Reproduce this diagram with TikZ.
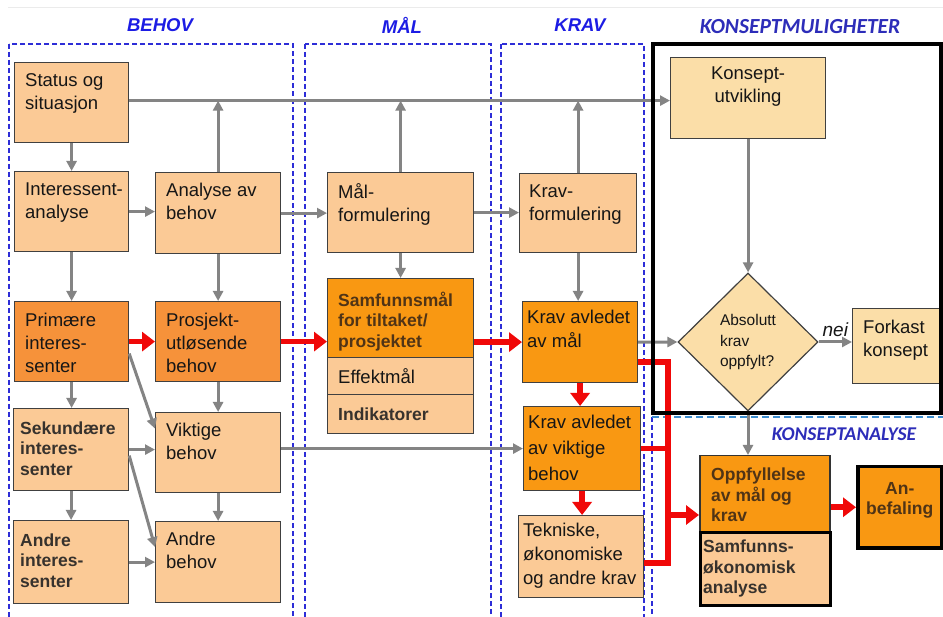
\documentclass[tikz,border=0pt]{standalone}
\usepackage{fontspec}
\setmainfont{Liberation Sans}
\newfontfamily\calfont{Carlito}
\usetikzlibrary{arrows.meta,shapes.geometric,calc}

\definecolor{peach}{RGB}{251,202,150}
\definecolor{darkor}{RGB}{246,146,58}
\definecolor{goldor}{RGB}{249,152,18}
\definecolor{pale}{RGB}{251,222,168}
\definecolor{edge}{RGB}{64,64,64}
\definecolor{arrgray}{RGB}{132,132,132}
\definecolor{arrred}{RGB}{240,8,8}
\definecolor{colblue}{RGB}{45,45,215}
\definecolor{lineblue}{RGB}{60,140,205}
\definecolor{headblue}{RGB}{28,28,228}
\definecolor{konblue}{RGB}{45,45,185}
\definecolor{ink}{RGB}{22,22,22}
\definecolor{inkgray}{RGB}{55,50,45}
\definecolor{inkbrown}{RGB}{80,52,22}

\newcommand{\boxfont}{\fontsize{18.5pt}{23pt}\selectfont}
\newcommand{\kravfont}{\fontsize{18.5pt}{24pt}\selectfont}
\newcommand{\widefont}{\fontsize{18.5pt}{26pt}\selectfont}
\newcommand{\boldfont}{\fontsize{17.5pt}{20.5pt}\selectfont\bfseries}
\newcommand{\diafont}{\fontsize{15.5pt}{20.5pt}\selectfont}
\newcommand{\headfont}{\fontsize{18.5pt}{20pt}\selectfont\bfseries\itshape}

\begin{document}
\begin{tikzpicture}[x=1pt, y=-1pt,
  box/.style={draw=edge, line width=1.2pt, fill=peach, anchor=north west, inner sep=0pt},
  hot/.style={box, fill=darkor},
  gold/.style={box, fill=goldor},
  pal/.style={box, fill=pale},
  wh/.style 2 args={minimum width=#1pt, minimum height=#2pt},
  txt/.style={anchor=north west, align=left, inner xsep=11pt, inner ysep=11pt, font=\boxfont, text=ink},
  btxt/.style={txt, font=\boldfont, text=inkgray, inner xsep=7pt, inner ysep=13.5pt},
  decision/.style={diamond, aspect=1, draw=edge, line width=1.2pt, fill=pale, inner sep=0pt,
    minimum width=140pt, minimum height=138pt, align=left, font=\diafont, text=ink},
  garrow/.style={draw=arrgray, line width=3pt, -{Triangle[length=10pt, width=10pt]}},
  rline/.style={draw=arrred, line width=5.5pt},
  rarrow/.style={rline, -{Triangle[length=13pt, width=19pt]}},
  column/.style={draw=colblue, line width=1.3pt, dash pattern=on 5pt off 3pt},
  head/.style={font=\headfont, text=headblue},
  khead/.style={font=\calfont\fontsize{21.5pt}{23pt}\selectfont\bfseries\itshape, text=konblue}]

  \path[use as bounding box] (0,0) rectangle (943,617);
  \clip (0,0) rectangle (943,617);
  \fill[white] (0,0) rectangle (943,617);

  \draw[black!8, line width=1pt] (8,8) -- (943,8);

  \draw[column] (9,44) rectangle (293,640);
  \draw[column] (305,44) rectangle (491,640);
  \draw[column] (501,44) rectangle (644,640);
  \draw[column] (652,417) -- (652,640);
  \draw[draw=lineblue, line width=1.6pt, dash pattern=on 7pt off 4pt] (652,417) -- (943,417);

  \node[head] (tbehov) at (160,25) {BEHOV};
  \node[head] (tmaal) at (402,25) {MÅL};
  \node[head] (tkrav) at (580,25) {KRAV};
  \node[khead] (tmulig) at (800,27) {KONSEPTMULIGHETER};
  \node[khead, font=\calfont\fontsize{19.5pt}{21pt}\selectfont\bfseries\itshape] (tanalyse) at (844,434) {KONSEPTANALYSE};

  % behov
  \node[box, wh={114}{80}, label={[txt]north west:Status og\\situasjon}] (status) at (14,62) {};
  \node[box, wh={114}{80}, label={[txt, inner ysep=12pt]north west:Interessent-\\analyse}] (inter) at (14,171) {};
  \node[hot, wh={114}{80}, label={[txt, inner ysep=12pt]north west:Primære\\interes-\\senter}] (prim) at (14,301) {};
  \node[box, wh={115}{82}, label={[btxt]north west:Sekundære\\interes-\\senter}] (sek) at (13,408) {};
  \node[box, wh={115}{83}, label={[btxt]north west:Andre\\interes-\\senter}] (andrei) at (13,520) {};

  \node[box, wh={125}{81}, label={[txt]north west:Analyse av\\behov}] (analyse) at (155,172) {};
  \node[hot, wh={125}{80}, label={[txt, inner ysep=12pt]north west:Prosjekt-\\utløsende\\behov}] (prosj) at (155,301) {};
  \node[box, wh={125}{80}, label={[txt]north west:Viktige\\behov}] (vikt) at (155,412) {};
  \node[box, wh={125}{81}, label={[txt]north west:Andre\\behov}] (andreb) at (155,521) {};

  % maal
  \node[box, wh={146}{80}, label={[txt]north west:Mål-\\formulering}] (maal) at (327,172) {};
  \node[gold, wh={146}{79}, label={[btxt, text=inkbrown, inner xsep=11pt]north west:Samfunnsmål\\for tiltaket/\\prosjektet}] (samf) at (327,278) {};
  \node[box, wh={146}{37}, label={[txt]north west:Effektmål}] (effekt) at (327,357) {};
  \node[box, wh={146}{39}, label={[btxt, inner xsep=11pt]north west:Indikatorer}] (indik) at (327,394) {};

  % krav
  \node[box, wh={117}{79}, label={[txt, inner xsep=10pt, inner ysep=12pt]north west:Krav-\\formulering}] (kravf) at (519,173) {};
  \node[gold, wh={115}{81}, label={[txt, font=\kravfont, inner xsep=5pt, inner ysep=9pt]north west:Krav avledet\\av mål}] (kravm) at (522,301) {};
  \node[gold, wh={117}{84}, label={[txt, font=\widefont, inner xsep=5pt, inner ysep=9pt]north west:Krav avledet\\av viktige\\behov}] (kravv) at (523,406) {};
  \node[box, wh={125}{82}, label={[txt, font=\kravfont, inner xsep=5pt, inner ysep=8pt]north west:Tekniske,\\økonomiske\\og andre krav}] (tek) at (518,515) {};

  % konsept
  \node[pal, wh={155}{81}, label={[txt, anchor=north, align=center, inner ysep=10pt]north:Konsept-\\utvikling}] (konsept) at (670,57) {};
  \node[decision] (check) at (748,342) {Absolutt\\krav\\oppfylt?};
  \node[pal, wh={88}{75}, label={[txt, inner ysep=12pt]north west:Forkast\\konsept}] (forkast) at (852,308) {};
  \node[gold, draw=black!80, line width=1.5pt, wh={130}{76}, label={[btxt, text=inkbrown, inner xsep=12pt, inner ysep=13pt]north west:Oppfyllelse\\av mål og\\krav}] (oppf) at (699,455) {};
  \node[box, draw=black, line width=2.5pt, wh={130}{73}, label={[btxt, inner xsep=4pt, inner ysep=9pt]north west:Samfunns-\\økonomisk\\analyse}] (samok) at (699,531) {};
  \node[gold, draw=black, line width=3.5pt, wh={84}{81}, label={[btxt, text=inkbrown, anchor=north, align=center, inner ysep=17pt]north:An-\\befaling}] (anbef) at (856,465) {};

  % grey arrows
  \coordinate (topline) at ($(status.east)+(0,-2)$);
  \draw[garrow] (topline) -- (topline -| konsept.west);
  \draw[garrow] (analyse.north) -- (analyse.north |- topline);
  \draw[garrow] (maal.north) -- (maal.north |- topline);
  \draw[garrow] (kravf.north) -- (kravf.north |- topline);
  \draw[garrow] (status) -- (inter);
  \draw[garrow] (inter.east) -- (inter.east -| analyse.west);
  \draw[garrow] (analyse.east) -- (analyse.east -| maal.west);
  \draw[garrow] (maal.east) -- (maal.east -| kravf.west);
  \draw[garrow] (inter) -- (prim);
  \draw[garrow] (analyse) -- (prosj);
  \draw[garrow] (maal) -- (samf);
  \draw[garrow] (kravf.south) -- (kravf.south |- kravm.north);
  \draw[garrow] (prim.south) -- (prim.south |- sek.north);
  \draw[garrow] (prosj) -- (vikt);
  \draw[garrow] ($(prim.east)+(0,12)$) -- ($(vikt.west)+(0,-24)$);
  \draw[garrow] (sek.east) -- (sek.east -| vikt.west);
  \draw[garrow] ($(sek.east)+(0,6)$) -- ($(andreb.west)+(0,-15)$);
  \draw[garrow] (sek.south) -- (sek.south |- andrei.north);
  \draw[garrow] (vikt) -- (andreb);
  \draw[garrow] (andrei.east) -- (andreb.west);
  \draw[garrow] (kravv.west -| vikt.east) -- (kravv.west);
  \draw[garrow] (kravm.east) -- (check.west);
  \draw[garrow] (konsept.south) -- (konsept.south |- check.north);
  \draw[garrow] (check.east) -- (check.east -| forkast.west) node[midway, above, font=\fontsize{19pt}{20pt}\selectfont\itshape, text=ink] (nei) {nei};
  \draw[garrow] (check.south) -- (check.south |- oppf.north);

  % red arrows
  \coordinate (bustop) at (668,362);
  \coordinate (busbot) at (668,563);
  \coordinate (busin) at (668,515);
  \draw[rarrow] (prim.east) -- (prosj.west);
  \draw[rarrow] (prosj.east) -- (prosj.east -| samf.west);
  \draw[rarrow] (kravm.west -| samf.east) -- (kravm.west);
  \draw[rarrow] (kravm.south) -- (kravm.south |- kravv.north);
  \draw[rarrow] (kravv.south) -- (kravv.south |- tek.north);
  \draw[rline] (kravm.east |- bustop) -- (bustop) -- (busbot) -- (busbot -| tek.east);
  \draw[rline] (kravv.east) -- (kravv.east -| bustop);
  \draw[rarrow] (busin) -- (busin -| oppf.west);
  \draw[rarrow] (anbef.west -| oppf.east) -- (anbef.west);

  \draw[line width=4pt] (653,44) rectangle (941,413);
\end{tikzpicture}
\end{document}
